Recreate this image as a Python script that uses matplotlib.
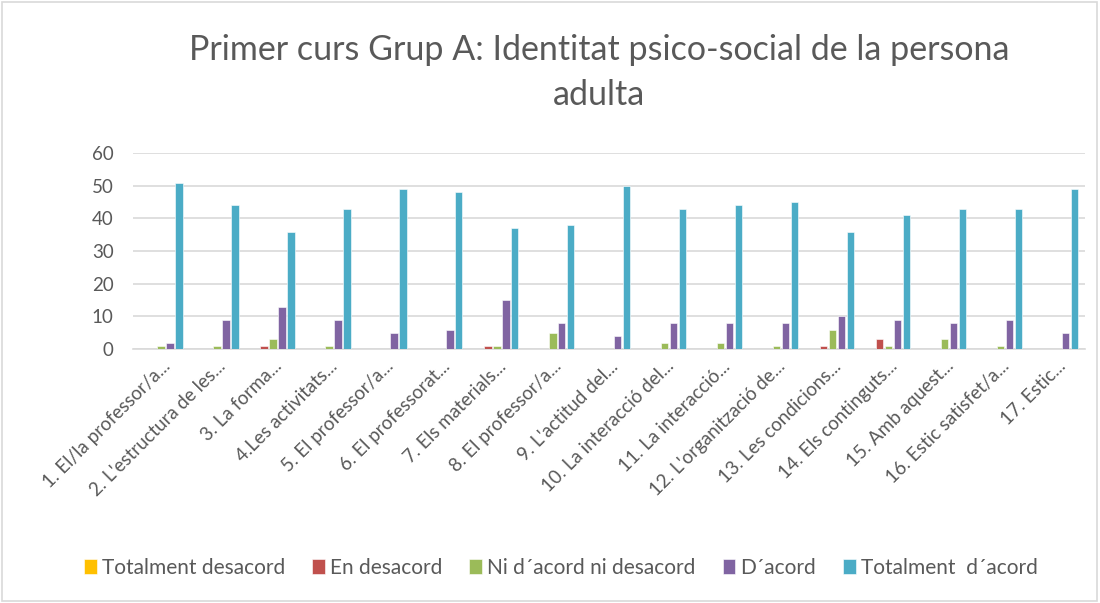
import matplotlib
matplotlib.use("Agg")
import matplotlib.pyplot as plt
import numpy as np
from matplotlib.patches import Rectangle

categories = ["1. El/la professor/a...", "2. L'estructura de les...", "3. La forma...",
              "4.Les activitats...", "5. El professor/a...", "6. El professorat...",
              "7. Els materials...", "8. El professor/a...", "9. L'actitud del...",
              "10. La interacció del...", "11. La interacció...", "12. L'organització de...",
              "13. Les condicions...", "14. Els continguts...", "15. Amb aquest...",
              "16. Estic satisfet/a...", "17. Estic..."]
totalment_desacord = [0, 0, 0, 0, 0, 0, 0, 0, 0, 0, 0, 0, 0, 0, 0, 0, 0]
en_desacord = [0, 0, 1, 0, 0, 0, 1, 0, 0, 0, 0, 0, 1, 3, 0, 0, 0]
ni_acord = [1, 1, 3, 1, 0, 0, 1, 5, 0, 2, 2, 1, 6, 1, 3, 1, 0]
d_acord = [2, 9, 13, 9, 5, 6, 15, 8, 4, 8, 8, 8, 10, 9, 8, 9, 5]
totalment_acord = [51, 44, 36, 43, 49, 48, 37, 38, 50, 43, 44, 45, 36, 41, 43, 43, 49]
series_names = ["Totalment desacord", "En desacord", "Ni d\u00b4acord ni desacord",
                "D\u00b4acord", "Totalment  d\u00b4acord"]
colors = ["#FFC000", "#C0504D", "#9BBB59", "#8064A2", "#4BACC6"]

plt.rcParams['font.family'] = ['Lato', 'DejaVu Sans']

fig = plt.figure(figsize=(11, 6.03), dpi=100)
fig.patches.append(Rectangle((0.002, 0.003), 0.995, 0.993, transform=fig.transFigure,
                             fill=False, edgecolor="#D9D9D9", linewidth=1.2))
ax = fig.add_axes([0.121, 0.421, 0.865, 0.325])

x = np.arange(len(categories))
data = [totalment_desacord, en_desacord, ni_acord, d_acord, totalment_acord]
step = 0.16
w = 0.13
for i, (vals, name, c) in enumerate(zip(data, series_names, colors)):
    ax.bar(x + (i - 2) * step, vals, width=w, color=c, label=name,
           edgecolor="white", linewidth=0.4, zorder=3)

ax.set_xlim(-0.5, len(categories) - 0.5)
ax.set_ylim(0, 60)
ax.set_yticks(range(0, 61, 10))
ax.grid(axis="y", color="#D9D9D9", linewidth=1.2, zorder=0)
for s in ["top", "right", "left"]:
    ax.spines[s].set_visible(False)
ax.spines["bottom"].set_color("#D9D9D9")
ax.spines["bottom"].set_linewidth(1.2)
ax.tick_params(axis="both", length=0, colors="#595959", labelsize=13.5)
ax.tick_params(axis="y", pad=14)
ax.tick_params(axis="x", pad=6)
ax.set_xticks(x)
ax.set_xticklabels(categories, rotation=45, ha="right", rotation_mode="anchor",
                   fontsize=13.5, color="#595959")

fig.text(0.545, 0.917, "Primer curs Grup A: Identitat psico-social de la persona",
         ha="center", va="center", fontsize=24.5, color="#595959")
fig.text(0.545, 0.842, "adulta", ha="center", va="center", fontsize=24.5, color="#595959")

leg = fig.legend(loc="center", bbox_to_anchor=(0.51, 0.058), ncol=5, frameon=False,
                 fontsize=15, handlelength=0.6, handleheight=0.7, handletextpad=0.25,
                 columnspacing=1.3)
for t in leg.get_texts():
    t.set_color("#595959")

fig.savefig("out.png", dpi=100)
